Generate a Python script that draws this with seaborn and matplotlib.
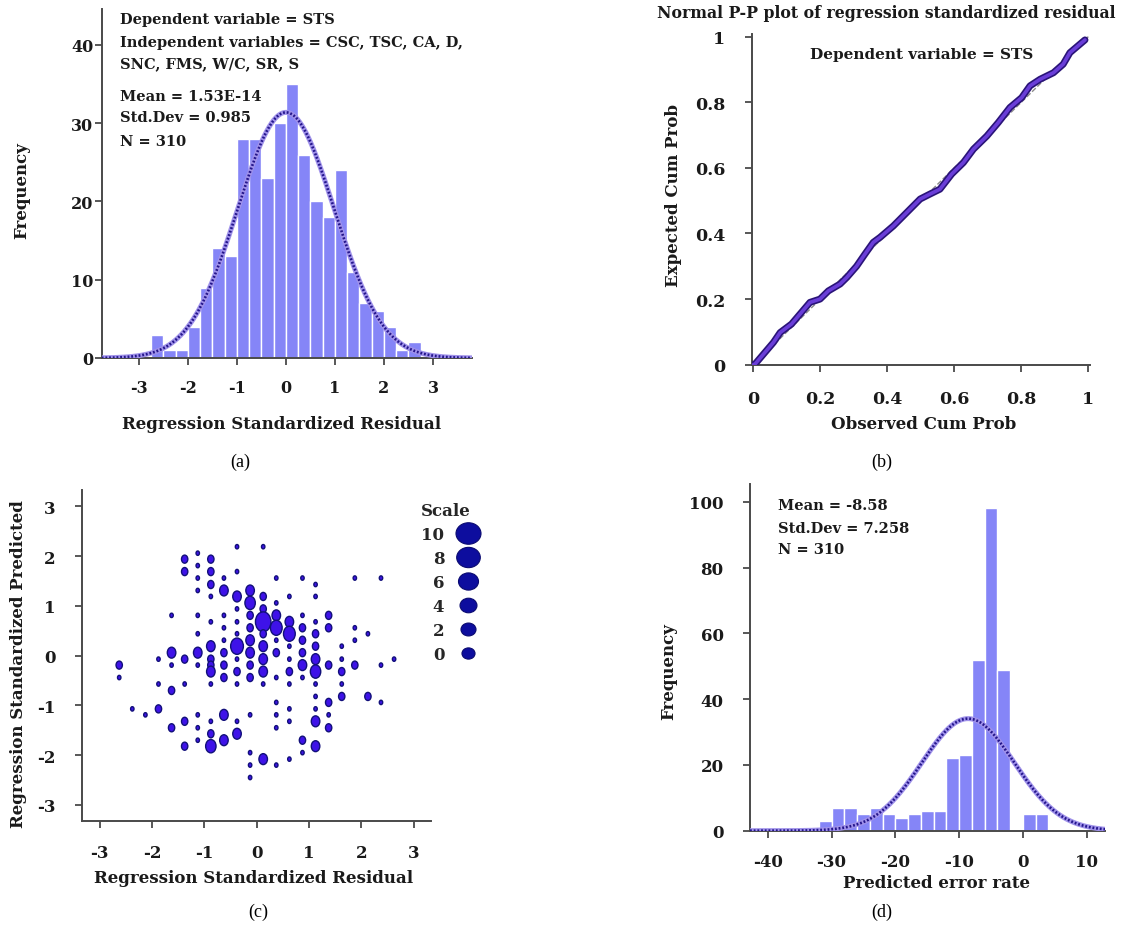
import numpy as np
import matplotlib
matplotlib.use("Agg")
import matplotlib.pyplot as plt
import seaborn as sns
from matplotlib.path import Path
from matplotlib.transforms import Affine2D
from matplotlib.markers import MarkerStyle
from matplotlib.lines import Line2D

# ---------------- data ----------------
# (a) histogram of regression standardized residuals
a_bin_edges = [-2.75, -2.5, -2.25, -2.0, -1.75, -1.5, -1.25, -1.0, -0.75, -0.5, -0.25, 0.0,
               0.25, 0.5, 0.75, 1.0, 1.25, 1.5, 1.75, 2.0, 2.25, 2.5, 2.75]
a_counts = [3, 1, 1, 4, 9, 14, 13, 28, 28, 23, 30, 35, 26, 20, 18, 24, 11, 7, 6, 4, 1, 2]
a_mean, a_sd, a_n = 1.53e-14, 0.985, 310
a_xticks = [-3, -2, -1, 0, 1, 2, 3]
a_yticks = [0, 10, 20, 30, 40]

# (b) normal P-P plot
pp_observed = [0.0, 0.005, 0.06, 0.08, 0.114, 0.139, 0.169, 0.199, 0.224, 0.259, 0.279, 0.308,
               0.333, 0.358, 0.378, 0.418, 0.458, 0.498, 0.527, 0.557, 0.592, 0.627, 0.657,
               0.697, 0.731, 0.766, 0.801, 0.826, 0.856, 0.896, 0.925, 0.945, 0.975, 0.99]
pp_expected = [0.0, 0.002, 0.068, 0.098, 0.124, 0.154, 0.19, 0.2, 0.225, 0.246, 0.266, 0.30,
               0.337, 0.373, 0.388, 0.423, 0.464, 0.505, 0.52, 0.535, 0.581, 0.616, 0.657,
               0.697, 0.738, 0.784, 0.814, 0.85, 0.87, 0.89, 0.916, 0.951, 0.977, 0.99]
b_ticks = [0, 0.2, 0.4, 0.6, 0.8, 1]
b_ticklabels = ["0", "0.2", "0.4", "0.6", "0.8", "1"]

# (c) bubble scatter: residual, predicted, count
c_resid = [-2.625, -2.625,
           -2.375,
           -2.125,
           -1.875, -1.875, -1.875,
           -1.625, -1.625, -1.625, -1.625, -1.625,
           -1.375, -1.375, -1.375, -1.375, -1.375, -1.375,
           -1.125, -1.125, -1.125, -1.125, -1.125, -1.125, -1.125, -1.125, -1.125, -1.125, -1.125,
           -0.875, -0.875, -0.875, -0.875, -0.875, -0.875, -0.875, -0.875, -0.875, -0.875, -0.875, -0.875, -0.875,
           -0.625, -0.625, -0.625, -0.625, -0.625, -0.625, -0.625, -0.625, -0.625, -0.625,
           -0.375, -0.375, -0.375, -0.375, -0.375, -0.375, -0.375, -0.375, -0.375, -0.375, -0.375, -0.375,
           -0.125, -0.125, -0.125, -0.125, -0.125, -0.125, -0.125, -0.125, -0.125, -0.125, -0.125, -0.125,
           0.125, 0.125, 0.125, 0.125, 0.125, 0.125, 0.125, 0.125, 0.125, 0.125,
           0.375, 0.375, 0.375, 0.375, 0.375, 0.375, 0.375, 0.375, 0.375, 0.375, 0.375,
           0.625, 0.625, 0.625, 0.625, 0.625, 0.625, 0.625, 0.625, 0.625, 0.625,
           0.875, 0.875, 0.875, 0.875, 0.875, 0.875, 0.875, 0.875, 0.875,
           1.125, 1.125, 1.125, 1.125, 1.125, 1.125, 1.125, 1.125, 1.125, 1.125, 1.125, 1.125,
           1.375, 1.375, 1.375, 1.375, 1.375, 1.375,
           1.625, 1.625, 1.625, 1.625, 1.625,
           1.875, 1.875, 1.875, 1.875,
           2.125, 2.125,
           2.375, 2.375, 2.375,
           2.625]
c_pred = [-0.19, -0.44,
          -1.07,
          -1.19,
          -0.07, -0.57, -1.07,
          0.81, 0.06, -0.19, -0.70, -1.45,
          1.94, 1.69, -0.07, -0.57, -1.32, -1.82,
          2.06, 1.81, 1.56, 1.31, 0.81, 0.44, 0.06, -0.19, -1.19, -1.45, -1.70,
          1.94, 1.69, 1.43, 1.19, 0.68, 0.19, -0.07, -0.19, -0.32, -0.57, -1.32, -1.57, -1.82,
          1.56, 1.31, 0.81, 0.56, 0.31, 0.06, -0.19, -0.44, -1.19, -1.70,
          2.19, 1.69, 1.19, 0.94, 0.68, 0.44, 0.19, -0.07, -0.32, -0.57, -1.32, -1.57,
          1.31, 1.06, 0.81, 0.56, 0.31, 0.06, -0.19, -0.44, -1.19, -1.95, -2.20, -2.45,
          2.19, 1.19, 0.94, 0.68, 0.44, 0.19, -0.07, -0.32, -0.57, -2.08,
          1.56, 1.06, 0.81, 0.56, 0.31, 0.06, -0.44, -0.94, -1.19, -1.45, -2.20,
          1.19, 0.68, 0.44, 0.19, -0.07, -0.32, -0.57, -1.07, -1.32, -2.08,
          1.56, 0.81, 0.56, 0.31, 0.06, -0.19, -0.44, -1.70, -1.95,
          1.43, 1.19, 0.68, 0.44, 0.19, -0.07, -0.32, -0.57, -0.82, -1.07, -1.32, -1.82,
          0.81, 0.56, -0.19, -0.94, -1.19, -1.45,
          0.19, -0.07, -0.32, -0.57, -0.82,
          1.56, 0.56, 0.31, -0.19,
          0.44, -0.82,
          1.56, -0.19, -0.94,
          -0.07]
c_count = [2, 1,
           1,
           1,
           1, 1, 2,
           1, 3, 1, 2, 2,
           2, 2, 2, 1, 2, 2,
           1, 1, 1, 1, 1, 1, 3, 1, 1, 1, 1,
           2, 2, 2, 1, 1, 3, 2, 2, 3, 1, 1, 2, 4,
           1, 3, 1, 1, 1, 2, 2, 2, 3, 3,
           1, 1, 3, 1, 1, 1, 6, 1, 2, 1, 1, 3,
           3, 4, 2, 2, 3, 3, 2, 2, 1, 1, 1, 1,
           1, 2, 2, 8, 2, 3, 3, 3, 1, 3,
           1, 1, 3, 5, 1, 2, 1, 1, 1, 1, 1,
           1, 3, 5, 1, 1, 2, 1, 1, 1, 1,
           1, 1, 2, 2, 2, 3, 1, 2, 1,
           1, 1, 1, 2, 2, 3, 4, 1, 1, 1, 3, 3,
           2, 2, 2, 2, 1, 2,
           1, 1, 2, 1, 2,
           1, 1, 1, 2,
           1, 2,
           1, 1, 1,
           1]
c_ticks = [-3, -2, -1, 0, 1, 2, 3]
scale_labels = ["10", "8", "6", "4", "2", "0"]
scale_marker_w = [18.0, 17.0, 14.4, 12.2, 10.8, 9.4]

# (d) histogram of predicted error rate
d_bin_edges = [-32, -30, -28, -26, -24, -22, -20, -18, -16, -14, -12, -10, -8, -6, -4, -2, 0, 2, 4]
d_counts = [3, 7, 7, 5, 7, 5, 4, 5, 6, 6, 22, 23, 52, 98, 49, 0, 5, 5]
d_mean, d_sd, d_n = -8.58, 7.258, 310
d_xticks = [-40, -30, -20, -10, 0, 10]
d_yticks = [0, 20, 40, 60, 80, 100]

# ---------------- style ----------------
sns.set_style("ticks")
plt.rcParams["font.family"] = ["DejaVu Serif"]
plt.rcParams["font.weight"] = "bold"
plt.rcParams["axes.labelweight"] = "bold"
plt.rcParams["axes.unicode_minus"] = False
plt.rcParams["axes.edgecolor"] = "#4a4a4a"
plt.rcParams["xtick.color"] = "#4a4a4a"
plt.rcParams["ytick.color"] = "#4a4a4a"
plt.rcParams["xtick.labelcolor"] = "#1a1a1a"
plt.rcParams["ytick.labelcolor"] = "#1a1a1a"

W, H = 1123, 929
fig = plt.figure(figsize=(W / 100, H / 100), dpi=100)


def px_axes(left, top, right, bottom):
    return fig.add_axes([left / W, 1 - bottom / H, (right - left) / W, (bottom - top) / H])


BAR = "#8585f7"
CURVE_OUT = "#a092ea"
CURVE_IN = "#24168c"
TXT = "#1a1a1a"
TICK_FS = 11.5


def style_axes(ax, pad_x, pad_y):
    sns.despine(ax=ax)
    for s in ("left", "bottom"):
        ax.spines[s].set_linewidth(1.4)
    ax.tick_params(axis="both", length=5, width=1.3)
    ax.tick_params(axis="x", pad=pad_x, labelsize=TICK_FS)
    ax.tick_params(axis="y", pad=pad_y, labelsize=TICK_FS)
    for lab in ax.get_xticklabels() + ax.get_yticklabels():
        lab.set_fontweight("bold")


def normal_curve(ax, edges, mean, sd, n, xlim):
    bw = edges[1] - edges[0]
    xs = np.linspace(xlim[0], xlim[1], 600)
    ys = n * bw * np.exp(-0.5 * ((xs - mean) / sd) ** 2) / (sd * np.sqrt(2 * np.pi))
    ax.plot(xs, ys, color=CURVE_OUT, lw=3.6, solid_capstyle="round", zorder=3)
    ax.plot(xs, ys, color=CURVE_IN, lw=1.9, linestyle=(0, (0.7, 0.7)), zorder=4)


# ---------------- (a) ----------------
axa = px_axes(101.7, 10, 471.7, 359)
a_centers = [(a_bin_edges[i] + a_bin_edges[i + 1]) / 2 for i in range(len(a_counts))]
sns.histplot(x=a_centers, weights=a_counts, bins=a_bin_edges, ax=axa, color=BAR, alpha=1,
             edgecolor="white", linewidth=1.0)
a_xlim = (-3.76, 3.79)
normal_curve(axa, a_bin_edges, a_mean, a_sd, a_n, a_xlim)
axa.set_xlim(*a_xlim)
axa.set_ylim(0, 44.6)
axa.set_xticks(a_xticks)
axa.set_yticks(a_yticks)
style_axes(axa, pad_x=10, pad_y=1)
axa.set_xlabel("Regression Standardized Residual", fontsize=12, color=TXT)
axa.set_ylabel("Frequency", fontsize=12, color=TXT)
axa.xaxis.set_label_coords(0.487, -0.189)
axa.yaxis.set_label_coords(-0.215, 0.484)
axa.xaxis.label.set_va("center")
axa.yaxis.label.set_va("center")
a_lines = ["Dependent variable = STS", "Independent variables = CSC, TSC, CA, D,",
           "SNC, FMS, W/C, SR, S", "Mean = 1.53E-14", "Std.Dev = 0.985", "N = 310"]
a_ypos = [0.971, 0.906, 0.845, 0.752, 0.690, 0.623]
for t, yy in zip(a_lines, a_ypos):
    axa.text(0.049, yy, t, transform=axa.transAxes, fontsize=10.5, fontweight="bold",
             color=TXT, va="center", ha="left", zorder=6)

# ---------------- (b) ----------------
axb = px_axes(751.7, 35, 1090, 365.7)
axb.plot([0, 1], [0, 1], color="#8a8a8a", lw=1.0, ls="--", zorder=2)
sns.lineplot(x=pp_observed, y=pp_expected, ax=axb, color="#2a1478", lw=5.0, sort=False, zorder=3)
sns.lineplot(x=pp_observed, y=pp_expected, ax=axb, color="#6a3ed8", lw=2.6, sort=False, zorder=4)
axb.set_xlim(-0.005, 1.005)
axb.set_ylim(0, 1.008)
axb.set_xticks(b_ticks)
axb.set_xticklabels(b_ticklabels)
axb.set_yticks(b_ticks)
axb.set_yticklabels(b_ticklabels)
TICK_FS = 12.5
style_axes(axb, pad_x=13, pad_y=14)
axb.set_xlabel("Observed Cum Prob", fontsize=12, color=TXT)
axb.set_ylabel("Expected Cum Prob", fontsize=12, color=TXT)
axb.xaxis.set_label_coords(0.509, -0.179)
axb.yaxis.set_label_coords(-0.232, 0.514)
axb.xaxis.label.set_va("center")
axb.yaxis.label.set_va("center")
axb.text(0.503, 0.94, "Dependent variable = STS", transform=axb.transAxes, fontsize=11,
         fontweight="bold", color=TXT, ha="center", va="center")
fig.text(886 / W, 1 - 14 / H, "Normal P-P plot of regression standardized residual",
         fontsize=11.3, fontweight="bold", color=TXT, ha="center", va="center")

# ---------------- (c) ----------------
axc = px_axes(82.3, 491, 431, 822.3)
ell_v = Affine2D().scale(0.78, 1.0).transform_path(Path.unit_circle())
ell_h = Affine2D().scale(1.0, 0.86).transform_path(Path.unit_circle())
size_map = {1: 10, 2: 34, 3: 62, 4: 92, 5: 118, 6: 138, 8: 205}
sns.scatterplot(x=c_resid, y=c_pred, size=c_count, sizes=size_map, ax=axc,
                marker=MarkerStyle(ell_v), color="#3e12e8", edgecolor="#12107a",
                linewidth=1.0, legend=False, zorder=3)
axc.set_xlim(-3.33, 3.33)
axc.set_ylim(-3.33, 3.33)
axc.set_xticks(c_ticks)
axc.set_yticks(c_ticks)
TICK_FS = 12
style_axes(axc, pad_x=11, pad_y=14)
axc.set_xlabel("Regression Standardized Residual", fontsize=12, color=TXT)
axc.set_ylabel("Regression Standardized Predicted", fontsize=12, color=TXT)
axc.xaxis.set_label_coords(0.492, -0.169)
axc.yaxis.set_label_coords(-0.184, 0.478)
axc.xaxis.label.set_va("center")
axc.yaxis.label.set_va("center")
handles = [Line2D([], [], linestyle="None", marker=MarkerStyle(ell_h), markersize=w,
                  markerfacecolor="#0d0d9e", markeredgecolor="#0a0a70", markeredgewidth=0.8)
           for w in scale_marker_w]
leg = axc.legend(handles, scale_labels, title="Scale", loc="upper left",
                 bbox_to_anchor=(413 / W, 1 - 495 / H), bbox_transform=fig.transFigure,
                 frameon=False, markerfirst=False, labelspacing=0.42, handletextpad=0.6,
                 handlelength=1.6, borderpad=0, alignment="left",
                 prop={"family": "DejaVu Serif", "weight": "bold", "size": 12},
                 title_fontproperties={"family": "DejaVu Serif", "weight": "bold", "size": 12})

# ---------------- (d) ----------------
axd = px_axes(750, 485, 1105, 831.7)
d_centers = [(d_bin_edges[i] + d_bin_edges[i + 1]) / 2 for i in range(len(d_counts))]
sns.histplot(x=d_centers, weights=d_counts, bins=d_bin_edges, ax=axd, color=BAR, alpha=1,
             edgecolor="white", linewidth=1.0)
d_xlim = (-42.8, 12.9)
normal_curve(axd, d_bin_edges, d_mean, d_sd, d_n, d_xlim)
axd.set_xlim(*d_xlim)
axd.set_ylim(0, 105.4)
axd.set_xticks(d_xticks)
axd.set_yticks(d_yticks)
style_axes(axd, pad_x=11, pad_y=14)
axd.set_xlabel("Predicted error rate", fontsize=12, color=TXT)
axd.set_ylabel("Frequency", fontsize=12, color=TXT)
axd.xaxis.set_label_coords(0.526, -0.148)
axd.yaxis.set_label_coords(-0.228, 0.461)
axd.xaxis.label.set_va("center")
axd.yaxis.label.set_va("center")
d_lines = ["Mean = -8.58", "Std.Dev = 7.258", "N = 310"]
d_ypos = [0.939, 0.874, 0.813]
for t, yy in zip(d_lines, d_ypos):
    axd.text(0.079, yy, t, transform=axd.transAxes, fontsize=10.5, fontweight="bold",
             color=TXT, va="center", ha="left")

# ---------------- captions ----------------
for lab, (cx, cy) in zip(["(a)", "(b)", "(c)", "(d)"],
                         [(240, 462), (882, 462), (258, 912), (882, 912)]):
    fig.text(cx / W, 1 - cy / H, lab, fontsize=13, family="Liberation Serif",
             fontweight="normal", color="black", ha="center", va="center")

fig.savefig("out.png", dpi=100)
